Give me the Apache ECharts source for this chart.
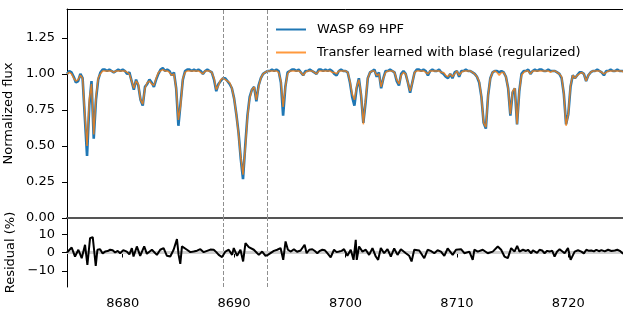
<!DOCTYPE html>
<html>
<head>
<meta charset="utf-8">
<script src="https://cdn.jsdelivr.net/npm/echarts@6/dist/echarts.min.js"></script>
<style>
  html, body { margin: 0; padding: 0; background: #fff; }
  #chart { width: 623px; height: 310px; }
</style>
</head>
<body>
<div id="chart"></div>
<script>
// spectrum sampled every 0.2 A starting at 8675.0
const waveStart = 8675.0
const waveStep = 0.2

// data (WASP 69 HPF)
const fluxData = [
  1.00,1.02,1.01,0.98,0.94,0.95,1.00,0.97,0.70,0.43,
  0.78,0.95,0.55,0.82,0.96,1.01,1.03,1.03,1.02,1.03,
  1.02,1.01,1.02,1.03,1.02,1.03,1.02,1.00,1.01,0.95,
  0.89,0.96,0.92,0.82,0.78,0.91,0.93,0.96,0.94,0.91,
  0.96,1.00,1.03,1.04,1.02,1.03,1.02,0.99,1.01,0.90,
  0.64,0.80,0.96,1.02,1.03,1.03,1.02,1.03,1.02,1.03,
  1.02,1.00,1.02,1.03,1.02,1.01,0.96,0.88,0.93,0.95,
  0.97,0.97,0.95,0.93,0.90,0.83,0.72,0.59,0.41,0.27,
  0.50,0.71,0.84,0.89,0.91,0.81,0.92,0.97,1.00,1.01,
  1.02,1.02,1.03,1.02,1.03,1.02,0.94,0.71,0.91,1.01,
  1.02,1.03,1.03,1.02,1.03,1.01,0.99,1.02,1.02,1.03,
  1.02,1.01,1.00,1.03,1.03,1.02,1.03,1.02,1.03,1.02,
  1.00,0.99,1.02,1.03,1.02,1.02,1.01,0.94,0.84,0.78,
  0.90,0.97,0.85,0.66,0.80,0.97,1.01,1.02,1.03,0.98,
  1.01,0.90,0.97,1.02,1.02,1.03,1.02,1.01,0.95,0.92,
  1.00,1.02,1.00,0.94,0.87,0.94,1.01,1.03,1.03,1.02,
  1.03,1.02,0.99,1.02,1.03,1.02,1.02,1.03,1.01,1.00,
  0.98,0.97,1.00,0.97,1.01,1.02,0.98,1.02,1.02,1.03,
  1.02,1.02,1.01,1.00,0.98,0.94,0.84,0.66,0.62,0.85,
  0.97,1.01,1.02,1.02,1.01,1.02,1.01,0.98,0.90,0.71,
  0.87,0.90,0.65,0.88,1.00,1.02,1.02,1.03,1.00,1.02,
  1.03,1.02,1.03,1.03,1.02,1.02,1.03,1.02,1.02,1.02,
  1.01,1.00,0.97,0.86,0.65,0.72,0.91,0.99,0.97,0.99,
  1.01,1.01,1.00,0.95,0.99,1.01,1.02,1.02,1.03,1.02,
  1.01,0.99,1.02,1.02,1.03,1.02,1.02,1.03,1.02,1.02,
  1.02
]

// transfer model learned with blase
const fluxModel = [
  1.00,1.01,1.00,0.97,0.95,0.96,0.99,0.97,0.72,0.50,
  0.82,0.93,0.58,0.84,0.97,1.00,1.02,1.02,1.02,1.02,
  1.02,1.01,1.02,1.02,1.02,1.02,1.02,1.01,1.00,0.95,
  0.90,0.95,0.93,0.82,0.79,0.90,0.94,0.95,0.93,0.92,
  0.97,1.01,1.02,1.03,1.02,1.02,1.01,0.99,1.00,0.90,
  0.68,0.78,0.97,1.01,1.02,1.02,1.02,1.02,1.02,1.02,
  1.01,1.00,1.02,1.02,1.02,1.01,0.97,0.89,0.92,0.96,
  0.97,0.96,0.95,0.94,0.90,0.83,0.72,0.58,0.42,0.30,
  0.48,0.70,0.83,0.89,0.91,0.82,0.91,0.97,1.00,1.01,
  1.02,1.02,1.02,1.02,1.02,1.01,0.95,0.77,0.91,1.00,
  1.02,1.02,1.02,1.02,1.02,1.01,0.99,1.01,1.02,1.02,
  1.02,1.01,1.00,1.02,1.02,1.02,1.02,1.02,1.02,1.01,
  1.01,1.00,1.02,1.02,1.02,1.02,1.01,0.95,0.86,0.82,
  0.91,0.96,0.86,0.65,0.82,0.97,1.01,1.02,1.02,0.99,
  1.00,0.91,0.97,1.01,1.02,1.02,1.02,1.01,0.96,0.93,
  0.99,1.01,1.00,0.94,0.88,0.94,1.01,1.02,1.02,1.02,
  1.02,1.01,1.00,1.02,1.02,1.02,1.02,1.02,1.01,1.01,
  0.99,0.98,1.00,0.98,1.00,1.02,0.99,1.01,1.02,1.02,
  1.02,1.02,1.01,1.00,0.98,0.95,0.84,0.66,0.63,0.85,
  0.97,1.01,1.02,1.01,0.99,1.01,1.01,0.98,0.90,0.72,
  0.88,0.90,0.65,0.88,0.99,1.01,1.02,1.02,1.00,1.02,
  1.02,1.02,1.02,1.02,1.02,1.02,1.02,1.01,1.02,1.02,
  1.01,1.00,0.98,0.86,0.64,0.72,0.92,0.99,0.97,0.99,
  1.00,1.01,1.00,0.95,0.99,1.01,1.02,1.02,1.02,1.02,
  1.01,1.00,1.01,1.02,1.02,1.02,1.02,1.02,1.02,1.02,
  1.01
]

// residual (%)
const resWave = [
  8675.00,8675.12,8675.42,8675.72,8676.02,8676.32,8676.62,8676.83,8677.07,8677.31,
  8677.43,8677.58,8677.73,8677.97,8678.20,8678.42,8678.65,8678.87,8679.10,8679.32,
  8679.55,8679.77,8680.05,8680.37,8680.60,8680.82,8680.97,8681.27,8681.57,8681.93,
  8682.17,8682.62,8683.07,8683.37,8683.67,8683.97,8684.27,8684.57,8684.87,8685.02,
  8685.17,8685.32,8685.77,8686.07,8686.37,8686.67,8686.97,8687.27,8687.57,8687.87,
  8688.17,8688.40,8688.62,8688.92,8689.22,8689.52,8689.82,8689.97,8690.27,8690.57,
  8690.81,8691.02,8691.32,8691.77,8692.22,8692.52,8692.82,8693.03,8693.57,8693.87,
  8694.17,8694.41,8694.62,8694.83,8695.10,8695.37,8695.65,8695.97,8696.33,8696.51,
  8696.75,8697.02,8697.25,8697.47,8697.70,8697.92,8698.15,8698.37,8698.67,8698.97,
  8699.20,8699.42,8699.65,8699.87,8700.17,8700.47,8700.72,8700.92,8701.01,8701.22,
  8701.52,8701.82,8702.12,8702.42,8702.72,8702.93,8703.17,8703.47,8703.77,8704.07,
  8704.37,8704.67,8704.97,8705.42,8705.72,8705.93,8706.17,8706.62,8707.07,8707.37,
  8707.65,8707.97,8708.27,8708.57,8708.87,8709.17,8709.62,8709.92,8710.37,8710.67,
  8711.12,8711.42,8711.57,8711.87,8712.32,8712.77,8713.22,8713.67,8713.97,8714.27,
  8714.57,8714.87,8715.17,8715.41,8715.62,8715.93,8716.20,8716.38,8716.67,8716.82,
  8716.97,8717.20,8717.42,8717.65,8717.87,8718.10,8718.32,8718.55,8718.77,8719.00,
  8719.22,8719.67,8719.97,8720.21,8720.57,8720.87,8721.17,8721.40,8721.62,8721.85,
  8722.07,8722.30,8722.52,8722.75,8722.97,8723.27,8723.57,8723.87,8724.17,8724.40,
  8724.62,8724.92
]
const resValue = [
  0.0,-0.4,2.7,-2.2,1.5,-3.1,4.2,-6.7,7.8,8.4,
  1.5,-7.3,1.5,1.8,-0.5,0.5,0.8,1.5,1.2,0.0,
  0.9,-0.4,1.3,0.5,-1.0,2.4,-2.2,3.3,-1.8,3.3,
  -0.7,1.5,-1.3,1.5,2.4,-1.8,-2.2,1.5,7.3,-1.3,
  -6.2,3.3,1.5,0.2,0.5,1.0,1.8,0.2,0.9,1.6,
  1.5,0.2,-1.3,-2.5,0.5,1.5,-1.3,2.4,-1.8,1.5,
  -4.9,5.1,2.9,1.5,-1.3,0.5,-1.8,-1.3,0.9,1.5,
  2.4,-4.0,6.0,1.5,0.5,1.8,0.4,1.1,4.2,-0.4,
  1.5,1.8,0.8,-0.4,0.9,1.5,1.2,-0.4,-2.6,1.5,
  0.2,0.5,0.9,1.8,-1.8,1.5,-4.0,6.9,-4.0,3.3,
  0.5,1.5,-1.3,2.4,-2.2,-4.0,2.4,-0.4,1.8,-2.2,
  2.2,-1.3,1.8,-0.4,-1.8,-4.9,1.5,1.1,-3.1,1.5,
  0.9,-0.4,1.2,0.5,-1.8,2.2,-1.3,1.5,1.8,-0.4,
  0.5,-4.0,1.5,0.5,1.5,-0.4,0.5,3.3,1.5,-2.2,
  -3.1,2.4,0.5,3.6,0.5,1.5,0.8,1.5,-0.4,1.2,
  0.5,-0.2,1.5,1.1,-0.4,0.9,0.5,1.0,-2.2,0.6,
  1.8,-0.4,2.4,-4.0,0.5,1.2,0.5,-0.5,1.5,0.9,
  1.1,0.6,1.5,0.7,1.3,0.6,1.5,0.8,1.1,1.5,
  0.9,-0.7
]

const markedWaves = [8689.0, 8693.0]
const xTicks = [8680, 8690, 8700, 8710, 8720]
const fluxTicks = [0, 0.25, 0.5, 0.75, 1.0, 1.25]
const resTicks = [-10, 0, 10]

const font = 'DejaVu Sans'

function toPairs(values) {
  return values.map((v, i) => [Math.round((waveStart + i * waveStep) * 10) / 10, v])
}

let myChart = echarts.init(document.getElementById('chart'), null, { renderer: 'canvas' })

const vLines = markedWaves.map((w) => ({ xAxis: w }))
const dashStyle = { color: '#8f8f8f', type: [4, 2], width: 1 }

let option = {
  animation: false,
  textStyle: { fontFamily: font },
  grid: [
    { left: 67, right: -1, top: 9, height: 209, outerBoundsMode: 'none', containLabel: false },
    { left: 67, right: -1, top: 218, height: 69, outerBoundsMode: 'none', containLabel: false }
  ],
  legend: {
    orient: 'vertical',
    left: 276,
    top: 23,
    padding: 0,
    icon: 'rect',
    itemWidth: 30,
    itemHeight: 2,
    itemGap: 10,
    textStyle: { fontFamily: font, fontSize: 13, color: '#000', padding: [0, 0, 0, 6] },
    data: ['WASP 69 HPF', 'Transfer learned with blasé (regularized)']
  },
  xAxis: [
    {
      gridIndex: 0, type: 'value', min: 8675, max: 8725, position: 'bottom',
      axisLine: { show: true, lineStyle: { color: '#555', width: 2 } },
      axisTick: { show: false }, axisLabel: { show: false }, splitLine: { show: false }
    },
    {
      gridIndex: 0, type: 'value', min: 8675, max: 8725, position: 'top',
      axisLine: { show: true, lineStyle: { color: '#000', width: 1 } },
      axisTick: { show: false }, axisLabel: { show: false }, splitLine: { show: false }
    },
    {
      gridIndex: 1, type: 'value', min: 8675, max: 8725, position: 'bottom',
      axisLine: { show: true, lineStyle: { color: '#000', width: 1 } },
      axisTick: { show: true, customValues: xTicks, length: 5, lineStyle: { color: '#000' } },
      axisLabel: {
        customValues: xTicks, margin: 10, fontSize: 13, color: '#000', fontFamily: font,
        formatter: (v) => String(v)
      },
      splitLine: { show: false }
    }
  ],
  yAxis: [
    {
      gridIndex: 0, type: 'value', min: 0, max: 1.45,
      name: 'Normalized flux', nameLocation: 'middle', nameGap: 43,
      nameTextStyle: { fontSize: 13, color: '#000', fontFamily: font },
      axisLine: { show: true, lineStyle: { color: '#000', width: 1 } },
      axisTick: { show: true, customValues: fluxTicks, length: 5, lineStyle: { color: '#000' } },
      axisLabel: {
        customValues: fluxTicks, margin: 12, fontSize: 13, color: '#000', fontFamily: font,
        formatter: (v) => v.toFixed(2)
      },
      splitLine: { show: false }
    },
    {
      gridIndex: 1, type: 'value', min: -18.8, max: 18.8,
      name: 'Residual (%)', nameLocation: 'middle', nameGap: 43,
      nameTextStyle: { fontSize: 13, color: '#000', fontFamily: font },
      axisLine: { show: true, lineStyle: { color: '#000', width: 1 } },
      axisTick: { show: true, customValues: resTicks, length: 5, lineStyle: { color: '#000' } },
      axisLabel: {
        customValues: resTicks, margin: 12, fontSize: 13, color: '#000', fontFamily: font,
        formatter: (v) => (v < 0 ? '\u2212' + Math.abs(v) : '' + v)
      },
      splitLine: { show: false }
    }
  ],
  series: [
    {
      // reference lines, top panel
      name: 'guides-top',
      type: 'line',
      xAxisIndex: 0, yAxisIndex: 0,
      data: [],
      z: 1,
      markLine: {
        silent: true, symbol: 'none', label: { show: false },
        lineStyle: dashStyle,
        data: vLines
      }
    },
    {
      // reference lines, residual panel
      name: 'guides-bottom',
      type: 'line',
      xAxisIndex: 2, yAxisIndex: 1,
      data: [],
      z: 1,
      markLine: {
        silent: true, symbol: 'none', label: { show: false },
        lineStyle: dashStyle,
        data: vLines.concat([{ yAxis: 0, lineStyle: { color: '#d0d0d0', type: 'solid', width: 3 } }])
      }
    },
    {
      name: 'WASP 69 HPF',
      type: 'line',
      xAxisIndex: 0, yAxisIndex: 0,
      data: toPairs(fluxData),
      symbol: 'none', showSymbol: false,
      lineStyle: { color: '#1f77b4', width: 2.6 },
      itemStyle: { color: '#1f77b4' },
      z: 2
    },
    {
      name: 'Transfer learned with blasé (regularized)',
      type: 'line',
      xAxisIndex: 0, yAxisIndex: 0,
      data: toPairs(fluxModel),
      symbol: 'none', showSymbol: false,
      lineStyle: { color: 'rgba(255,127,14,0.8)', width: 1.5 },
      itemStyle: { color: 'rgba(255,127,14,0.8)' },
      z: 3
    },
    {
      name: 'residual',
      type: 'line',
      xAxisIndex: 2, yAxisIndex: 1,
      data: resWave.map((w, i) => [w, resValue[i]]),
      symbol: 'none', showSymbol: false,
      lineStyle: { color: '#000', width: 2 },
      itemStyle: { color: '#000' },
      zlevel: 1,
      z: 3
    }
  ]
}

myChart.setOption(option)
</script>
</body>
</html>
